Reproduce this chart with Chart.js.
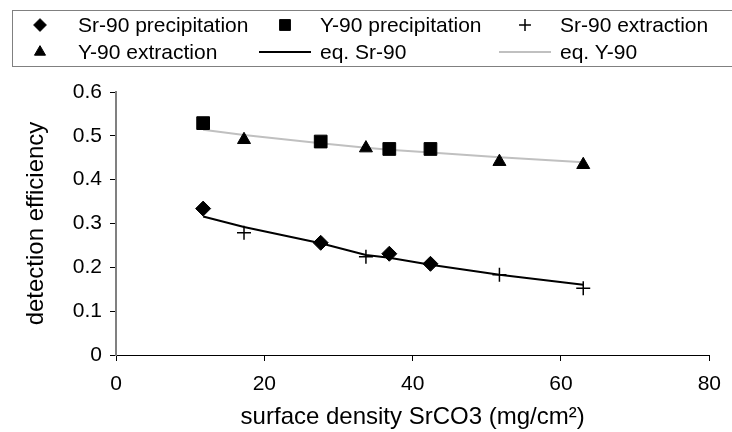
<!DOCTYPE html>
<html>
<head>
<meta charset="utf-8">
<script src="https://cdn.jsdelivr.net/npm/chart.js@4"></script>
<style>
  body { margin: 0; background: #fff; }
  #wrap { position: relative; width: 732px; height: 432px; overflow: hidden; }
  #chart { position: absolute; left: 0; top: 0; }
  #legendBox { position: absolute; left: 12px; top: 10px; width: 760px; height: 57px;
    border: 1.5px solid #808080; box-sizing: border-box; }
  .leg { position: absolute; height: 24px; line-height: 24px; white-space: nowrap;
    font-family: "Liberation Sans", Arial, sans-serif; font-size: 21px; color: #000; }
</style>
</head>
<body>
<div id="wrap">
  <canvas id="chart" width="732" height="432"></canvas>
  <div id="legendBox"></div>
</div>
<script>
// measured samples
const precipX = [11.75, 27.6, 36.85, 42.4];
const extractX = [17.26, 33.7, 51.7, 63.0];
const srPrecip = [0.334, 0.256, 0.231, 0.208];
const yPrecip = [0.529, 0.487, 0.470, 0.470];
const srExtract = [0.279, 0.224, 0.183, 0.152];
const yExtract = [0.491, 0.472, 0.441, 0.434];

// fitted curves
const fitX = [11.75, 17.26, 27.6, 33.7, 36.85, 42.4, 51.7, 63.0];
const fitSr = [0.316, 0.292, 0.255, 0.228, 0.222, 0.206, 0.183, 0.160];
const fitY = [0.514, 0.502, 0.483, 0.473, 0.468, 0.462, 0.451, 0.440];

const xTicks = [0, 20, 40, 60, 80];
const yTicks = [0, 0.1, 0.2, 0.3, 0.4, 0.5, 0.6];

const seriesNames = ['Sr-90 precipitation', 'Y-90 precipitation', 'Sr-90 extraction',
  'Y-90 extraction', 'eq. Sr-90', 'eq. Y-90'];

const FONT = '"Liberation Sans", Arial, sans-serif';
const pts = (xs, ys) => xs.map((x, i) => ({x: x, y: ys[i]}));

const datasets = [
  {label: seriesNames[0], data: pts(precipX, srPrecip), pointStyle: 'rectRot', pointRadius: 7.5,
    backgroundColor: '#000', borderColor: '#000', borderWidth: 1, showLine: false},
  {label: seriesNames[1], data: pts(precipX, yPrecip), pointStyle: 'rect', pointRadius: 9,
    backgroundColor: '#000', borderColor: '#000', borderWidth: 1, showLine: false},
  {label: seriesNames[2], data: pts(extractX, srExtract), pointStyle: 'cross', pointRadius: 7,
    backgroundColor: '#000', borderColor: '#000', borderWidth: 1.5, showLine: false},
  {label: seriesNames[3], data: pts(extractX, yExtract), pointStyle: 'triangle', pointRadius: 7.5,
    backgroundColor: '#000', borderColor: '#000', borderWidth: 1, showLine: false},
  {label: seriesNames[4], data: pts(fitX, fitSr), showLine: true, pointRadius: 0,
    borderColor: '#000', borderWidth: 2, tension: 0},
  {label: seriesNames[5], data: pts(fitX, fitY), showLine: true, pointRadius: 0,
    borderColor: '#c0c0c0', borderWidth: 2, tension: 0}
];

new Chart(document.getElementById('chart'), {
  type: 'scatter',
  data: {datasets: datasets},
  options: {
    responsive: false,
    animation: false,
    events: [],
    layout: {padding: {left: 0, top: 92, right: 17, bottom: 0}},
    plugins: {legend: {display: false}, tooltip: {enabled: false}},
    scales: {
      x: {
        type: 'linear', min: 0, max: 80,
        afterBuildTicks: s => { s.ticks = xTicks.map(v => ({value: v})); },
        afterFit: s => { s.height = 77; },
        grid: {drawOnChartArea: false, drawTicks: true, tickLength: 6, color: '#000', lineWidth: 1},
        border: {color: '#000', width: 1},
        ticks: {color: '#000', font: {family: FONT, size: 21}, padding: 11, maxRotation: 0},
        title: {display: true, text: 'surface density SrCO3 (mg/cm²)', color: '#000',
          font: {family: FONT, size: 24}, padding: {top: 0, bottom: 0}}
      },
      y: {
        type: 'linear', min: 0, max: 0.6,
        afterBuildTicks: s => { s.ticks = yTicks.map(v => ({value: v})); },
        afterFit: s => { s.width = 116; },
        grid: {drawOnChartArea: false, drawTicks: true, tickLength: 6, color: '#000', lineWidth: 1},
        border: {color: '#808080', width: 2},
        ticks: {color: '#000', font: {family: FONT, size: 21}, padding: 8},
        title: {display: true, text: 'detection efficiency', color: '#000',
          font: {family: FONT, size: 24}, padding: {top: 22, bottom: 0}}
      }
    }
  }
});

// legend laid out in a fixed 3 x 2 grid
const wrap = document.getElementById('wrap');
const swatchX = [40, 285, 525];
const textX = [78, 320, 560];
const rowY = [13, 40];
datasets.forEach((ds, i) => {
  const col = i % 3, row = Math.floor(i / 3);
  const c = document.createElement('canvas');
  c.width = 56; c.height = 24;
  c.className = 'leg';
  c.style.left = (swatchX[col] - 28) + 'px';
  c.style.top = rowY[row] + 'px';
  const ctx = c.getContext('2d');
  if (ds.showLine) {
    ctx.strokeStyle = ds.borderColor;
    ctx.lineWidth = ds.borderWidth;
    ctx.beginPath();
    ctx.moveTo(2, 12); ctx.lineTo(54, 12);
    ctx.stroke();
  } else {
    ctx.fillStyle = ds.backgroundColor;
    ctx.strokeStyle = ds.borderColor;
    ctx.lineWidth = ds.borderWidth;
    Chart.helpers.drawPoint(ctx, {pointStyle: ds.pointStyle, radius: ds.pointRadius * 0.85,
      borderWidth: ds.borderWidth, rotation: 0}, 28, 12);
  }
  wrap.appendChild(c);
  const t = document.createElement('div');
  t.className = 'leg';
  t.textContent = ds.label;
  t.style.left = textX[col] + 'px';
  t.style.top = rowY[row] + 'px';
  wrap.appendChild(t);
});
</script>
</body>
</html>
